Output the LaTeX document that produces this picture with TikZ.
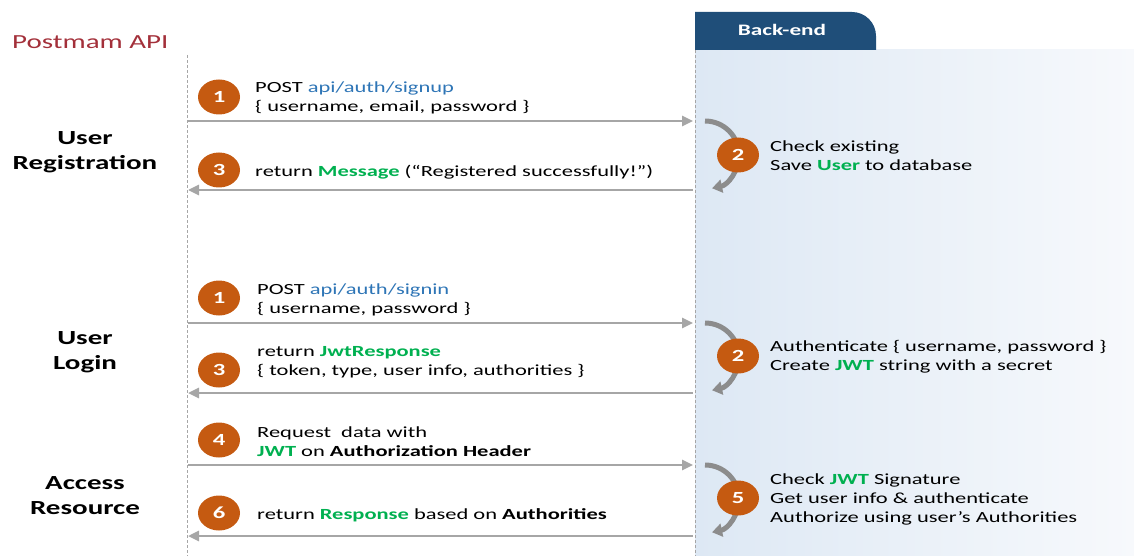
\documentclass[tikz,border=0pt]{standalone}
\usepackage{fontspec}
\setmainfont[FakeStretch=1.45]{Carlito}
\usetikzlibrary{arrows.meta,shapes.geometric}
\definecolor{stepor}{HTML}{C55A11}
\definecolor{flowgray}{HTML}{A6A6A6}
\definecolor{loopgray}{HTML}{8C8C8C}
\definecolor{hdrblue}{HTML}{1F4E79}
\definecolor{linkblue}{HTML}{2E75B6}
\definecolor{okgreen}{HTML}{00B050}
\definecolor{titlered}{HTML}{A3303A}
\definecolor{panelL}{HTML}{DDE8F4}
\definecolor{panelR}{HTML}{F7F9FC}
\newcommand{\hl}[1]{\textcolor{okgreen}{\textbf{#1}}}
\newcommand{\lk}[1]{\textcolor{linkblue}{#1}}
\tikzset{
  badge/.style={ellipse, fill=stepor, text=white, font=\fontsize{17}{17}\selectfont\bfseries,
    minimum width=42pt, minimum height=35pt, inner sep=0pt},
  msg/.style={anchor=west, align=left, font=\fontsize{15.5}{19}\selectfont, inner sep=0pt},
  phase/.style={align=center, font=\fontsize{20}{25}\selectfont\bfseries, inner sep=0pt},
  flow/.style={draw=flowgray, line width=2.6pt, -{Triangle[length=11pt,width=10pt]}},
  loop/.style={draw=loopgray, line width=5pt, -{Triangle[length=10pt,width=13pt]}},
  lifeline/.style={draw=gray!70, densely dashed, line width=0.9pt},
}
\begin{document}
\begin{tikzpicture}[x=1pt,y=-1pt]
\useasboundingbox (0,0) rectangle (1134,556);
% back-end panel
\shade[left color=panelL, right color=panelR] (695,50) rectangle (1134,556);
\fill[hdrblue] (695,50) -- (695,12) -- (852,12) arc[start angle=-90, end angle=0, radius=24] -- (876,50) -- cycle;
\node[text=white, font=\fontsize{16}{16}\selectfont\bfseries] (be) at (782,30) {Back-end};
% title
\node[anchor=west, text=titlered, font=\fontsize{20}{20}\selectfont, inner sep=0pt] (title) at (12,42) {Postmam API};
% lifelines
\coordinate (cT) at (187,55);
\coordinate (cB) at (187,556);
\coordinate (sT) at (695,50);
\coordinate (sB) at (695,556);
\draw[lifeline] (cT) -- (cB);
\draw[lifeline] (sT) -- (sB);
% phase labels
\node[phase] (reg) at (85,152) {User\\Registration};
\node[phase] (log) at (85,352) {User\\Login};
\node[phase] (acc) at (85,496) {Access\\Resource};

% ---- registration
\coordinate (r1a) at (188,121); \coordinate (r1b) at (693,121);
\coordinate (r3a) at (693,190); \coordinate (r3b) at (188,190);
\draw[flow] (r1a) -- (r1b);
\draw[flow] (r3a) -- (r3b);
\node[badge] (b1) at (219,97) {1};
\node[msg] (m1) at (255,98) {POST \lk{api/auth/signup}\\\{ username, email, password \}};
\node[badge] (b3) at (219,170) {3};
\node[msg] (m3) at (255,172) {return \hl{Message} (“Registered successfully!”)};
\coordinate (q1) at (705,121);
\draw[loop] (q1) arc[start angle=-90, end angle=78, radius=34];
\node[badge] (b2) at (738,155) {2};
\node[msg] (m2) at (770,156) {Check existing\\Save \hl{User} to database};

% ---- login
\coordinate (l1a) at (188,323); \coordinate (l1b) at (693,323);
\coordinate (l3a) at (693,393); \coordinate (l3b) at (188,393);
\draw[flow] (l1a) -- (l1b);
\draw[flow] (l3a) -- (l3b);
\node[badge] (c1) at (219,298) {1};
\node[msg] (n1) at (257,300) {POST \lk{api/auth/signin}\\\{ username, password \}};
\node[badge] (c3) at (219,370) {3};
\node[msg] (n3) at (257,362) {return \hl{JwtResponse}\\\{ token, type, user info, authorities \}};
\coordinate (q2) at (705,323);
\draw[loop] (q2) arc[start angle=-90, end angle=78, radius=34];
\node[badge] (c2) at (738,356) {2};
\node[msg] (n2) at (770,357) {Authenticate \{ username, password \}\\Create \hl{JWT} string with a secret};

% ---- access
\coordinate (a4a) at (188,465); \coordinate (a4b) at (693,465);
\coordinate (a6a) at (693,536); \coordinate (a6b) at (188,536);
\draw[flow] (a4a) -- (a4b);
\draw[flow] (a6a) -- (a6b);
\node[badge] (d4) at (219,440) {4};
\node[msg] (o4) at (257,442) {Request\ \ data with\\\hl{JWT} on \textbf{Authorization Header}};
\node[badge] (d6) at (219,513) {6};
\node[msg] (o6) at (257,515) {return \hl{Response} based on \textbf{Authorities}};
\coordinate (q3) at (705,465);
\draw[loop] (q3) arc[start angle=-90, end angle=78, radius=34];
\node[badge] (d5) at (738,498) {5};
\node[msg] (o5) at (770,499) {Check \hl{JWT} Signature\\Get user info \& authenticate\\Authorize using user’s Authorities};
\end{tikzpicture}
\end{document}
